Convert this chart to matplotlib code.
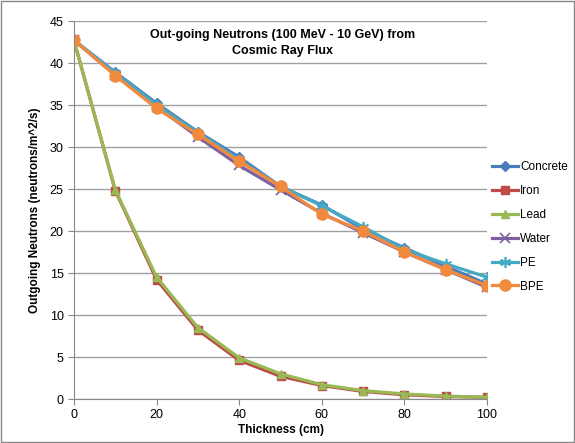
import matplotlib
matplotlib.use("Agg")
import matplotlib.pyplot as plt
from matplotlib.patches import Rectangle

thickness = [0, 10, 20, 30, 40, 50, 60, 70, 80, 90, 100]
concrete = [42.7, 38.9, 35.2, 31.8, 28.8, 25.3, 23.1, 20.2, 18.0, 15.8, 13.7]
iron = [42.7, 24.8, 14.2, 8.2, 4.6, 2.7, 1.6, 0.9, 0.5, 0.3, 0.2]
lead = [42.7, 24.9, 14.5, 8.5, 4.9, 3.0, 1.7, 1.0, 0.6, 0.35, 0.2]
water = [42.7, 38.6, 34.8, 31.2, 27.8, 24.9, 22.1, 19.8, 17.5, 15.4, 13.3]
pe = [42.7, 38.8, 35.0, 31.7, 28.5, 25.3, 23.0, 20.5, 17.8, 16.1, 14.5]
bpe = [42.7, 38.5, 34.6, 31.5, 28.3, 25.3, 22.0, 20.0, 17.5, 15.4, 13.5]

series_names = ["Concrete", "Iron", "Lead", "Water", "PE", "BPE"]
x_ticks = [0, 20, 40, 60, 80, 100]
y_ticks = [0, 5, 10, 15, 20, 25, 30, 35, 40, 45]

plt.rcParams['font.family'] = ['Liberation Sans', 'DejaVu Sans']

fig = plt.figure(figsize=(5.75, 4.43), dpi=100)
ax = fig.add_axes([74/575, 1-399/443, (487-74)/575, (399-21)/443])

styles = [
    (concrete, "#4A7EBB", "D", 5),
    (iron, "#BE4B48", "s", 6),
    (lead, "#98B954", "^", 6),
    (water, "#7D60A0", "x", 7),
    (pe, "#46AAC5", (6, 2, 0), 8),
    (bpe, "#F18A3D", "o", 8),
]
for (vals, c, m, ms), name in zip(styles, series_names):
    mew = 1.2 if m == "x" or isinstance(m, tuple) else 1
    ax.plot(thickness, vals, color=c, marker=m, markersize=ms, lw=2.3,
            markeredgecolor=c, markerfacecolor=c, markeredgewidth=mew, label=name)

ax.set_xlim(0, 100)
ax.set_ylim(0, 45)
ax.set_xticks(x_ticks)
ax.set_yticks(y_ticks)
ax.grid(axis='y', color='#A0A0A0', lw=1)
ax.set_axisbelow(True)
for s in ['top', 'right']:
    ax.spines[s].set_visible(False)
for s in ['left', 'bottom']:
    ax.spines[s].set_color('#888888')
ax.tick_params(axis='both', colors='#888888', labelcolor='black', labelsize=9, length=4)
ax.set_xlabel("Thickness (cm)", fontsize=8.5, fontweight='bold', labelpad=2)
ax.set_ylabel("Outgoing Neutrons (neutrons/m^2/s)", fontsize=8.5, fontweight='bold', labelpad=6)
ax.text(0.505, 0.978, "Out-going Neutrons (100 MeV - 10 GeV) from\nCosmic Ray Flux",
        transform=ax.transAxes, ha='center', va='top', fontsize=9, fontweight='bold',
        linespacing=1.45)

ax.legend(loc='center left', bbox_to_anchor=(0.995, 0.455), frameon=False, fontsize=8.5,
          handlelength=2.2, handletextpad=0.2, labelspacing=1.0, borderaxespad=0.2)

fig.patches.append(Rectangle((0.002, 0.002), 0.996, 0.996, transform=fig.transFigure,
                             fill=False, edgecolor='#888888', lw=1))

fig.savefig("out.png", dpi=100)
